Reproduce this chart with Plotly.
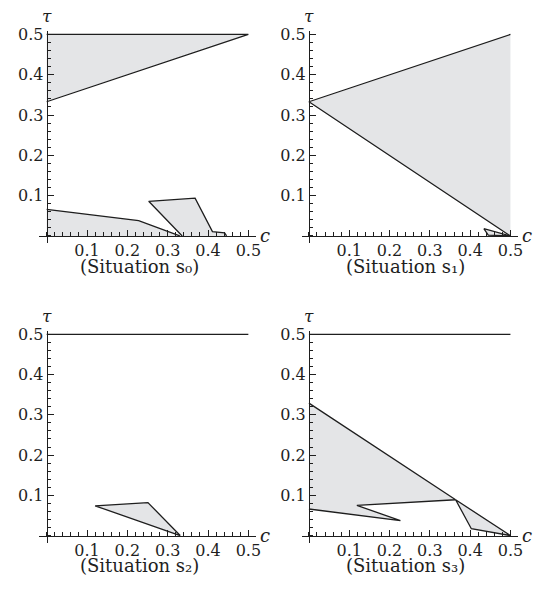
import plotly.graph_objects as go

# ---------------- data ----------------
TICK_VALS = [0.1, 0.2, 0.3, 0.4, 0.5]
TICK_TEXT = ["0.1", "0.2", "0.3", "0.4", "0.5"]
CAPTIONS = ["(Situation s₀)", "(Situation s₁)", "(Situation s₂)", "(Situation s₃)"]

# Situation s0
s0_top_c = [0.0, 0.5, 0.0]
s0_top_t = [0.5, 0.5, 0.333]
s0_low_c = [0.0, 0.228, 0.330, 0.0]
s0_low_t = [0.066, 0.038, 0.0, 0.0]
s0_mid_c = [0.336, 0.253, 0.368, 0.411, 0.441, 0.446]
s0_mid_t = [0.0, 0.086, 0.094, 0.011, 0.008, 0.0]

# Situation s1
s1_big_c = [0.5, 0.0, 0.5]
s1_big_t = [0.5, 0.333, 0.0]
s1_small_c = [0.434, 0.445, 0.5]
s1_small_t = [0.018, 0.002, 0.0]

# Situation s2
s2_line_c = [0.0, 0.5]
s2_line_t = [0.5, 0.5]
s2_tri_c = [0.12, 0.251, 0.331]
s2_tri_t = [0.074, 0.082, 0.0]

# Situation s3
s3_line_c = [0.0, 0.5]
s3_line_t = [0.5, 0.5]
s3_a_c = [0.0, 0.364, 0.119, 0.227, 0.0]
s3_a_t = [0.329, 0.089, 0.075, 0.037, 0.066]
s3_b_c = [0.364, 0.5, 0.403]
s3_b_t = [0.089, 0.0, 0.017]

# ---------------- style ----------------
FILL = "#e4e5e7"
INK = "#1e1e1e"
FONT = "DejaVu Serif"
XMIN, XMAX = -0.018, 0.518
YMIN, YMAX = -0.018, 0.509

OFF = 8  # page body margin
W, H = 545, 584


def xd(a, b):
    return [(a - OFF) / W, (b - OFF) / W]


def yd(top, bottom):
    return [1 - (bottom - OFF) / H, 1 - (top - OFF) / H]


XDOMS = [xd(39.7, 257.9), xd(304.4, 522.4)]
YDOMS = [yd(25, 239.6), yd(328, 542.3)]

fig = go.Figure()


def refs(k):
    return ("x" if k == 1 else f"x{k}"), ("y" if k == 1 else f"y{k}")


def add_fill(c, t, k):
    xa, ya = refs(k)
    fig.add_trace(go.Scatter(x=list(c) + [c[0]], y=list(t) + [t[0]], xaxis=xa, yaxis=ya,
                             mode="lines", fill="toself", fillcolor=FILL,
                             line=dict(color="rgba(0,0,0,0)", width=0),
                             hoverinfo="skip", showlegend=False))


def add_line(c, t, k, close=False):
    xa, ya = refs(k)
    c, t = list(c), list(t)
    if close:
        c, t = c + [c[0]], t + [t[0]]
    fig.add_trace(go.Scatter(x=c, y=t, xaxis=xa, yaxis=ya, mode="lines",
                             line=dict(color=INK, width=1.3),
                             hoverinfo="skip", showlegend=False))


# s0
add_fill(s0_top_c, s0_top_t, 1)
add_line(s0_top_c, s0_top_t, 1)
add_fill(s0_low_c, s0_low_t, 1)
add_line(s0_low_c[:3], s0_low_t[:3], 1)
add_fill(s0_mid_c, s0_mid_t, 1)
add_line(s0_mid_c, s0_mid_t, 1)
# s1
add_fill(s1_big_c, s1_big_t, 2)
add_line(s1_big_c, s1_big_t, 2)
add_fill(s1_small_c, s1_small_t, 2)
add_line(s1_small_c, s1_small_t, 2, close=True)
# s2
add_line(s2_line_c, s2_line_t, 3)
add_fill(s2_tri_c, s2_tri_t, 3)
add_line(s2_tri_c, s2_tri_t, 3, close=True)
# s3
add_line(s3_line_c, s3_line_t, 4)
add_fill(s3_a_c, s3_a_t, 4)
add_line(s3_a_c, s3_a_t, 4)
add_fill(s3_b_c, s3_b_t, 4)
add_line(s3_b_c, s3_b_t, 4, close=True)

layout = dict(width=W, height=H, margin=dict(l=0, r=0, t=0, b=0),
              paper_bgcolor="white", plot_bgcolor="white", showlegend=False)

annotations = []
for k in range(1, 5):
    col = (k - 1) % 2
    row = (k - 1) // 2
    xdom, ydom = XDOMS[col], YDOMS[row]
    xpos = ydom[0] + (0 - YMIN) / (YMAX - YMIN) * (ydom[1] - ydom[0])
    ypos = xdom[0] + (0 - XMIN) / (XMAX - XMIN) * (xdom[1] - xdom[0])
    common = dict(showline=True, linecolor=INK, linewidth=1, ticks="inside", ticklen=6,
                  tickwidth=1, tickcolor=INK, tickmode="array", tickvals=TICK_VALS,
                  ticktext=TICK_TEXT, showgrid=False, zeroline=False, anchor="free",
                  tickfont=dict(family=FONT, size=16, color=INK),
                  minor=dict(ticks="inside", dtick=0.02, tick0=0, ticklen=3.5,
                             tickwidth=1, tickcolor=INK, showgrid=False))
    sx = "" if k == 1 else str(k)
    layout[f"xaxis{sx}"] = dict(domain=xdom, range=[XMIN, XMAX], position=xpos, **common)
    layout[f"yaxis{sx}"] = dict(domain=ydom, range=[YMIN, YMAX], position=ypos, **common)
    xr, yr = refs(k)
    annotations.append(dict(text=CAPTIONS[k - 1], xref=f"{xr} domain", yref=f"{yr} domain",
                            x=0.465 if col == 0 else 0.48, y=-0.108, showarrow=False,
                            xanchor="center", yanchor="middle",
                            font=dict(family=FONT, size=18, color=INK)))
    annotations.append(dict(text="<i>τ</i>", xref=xr, yref=f"{yr} domain", x=0.0, y=1.0,
                            yshift=15, showarrow=False, xanchor="center", yanchor="middle",
                            font=dict(family=FONT, size=17, color=INK)))
    annotations.append(dict(text="<i>c</i>", xref=f"{xr} domain", yref=yr,
                            x=(0.542 - XMIN) / (XMAX - XMIN), y=0.0,
                            showarrow=False, xanchor="center", yanchor="middle",
                            font=dict(family=FONT, size=18, color=INK)))
layout["annotations"] = annotations
fig.update_layout(**layout)
fig.write_html("out.html")
